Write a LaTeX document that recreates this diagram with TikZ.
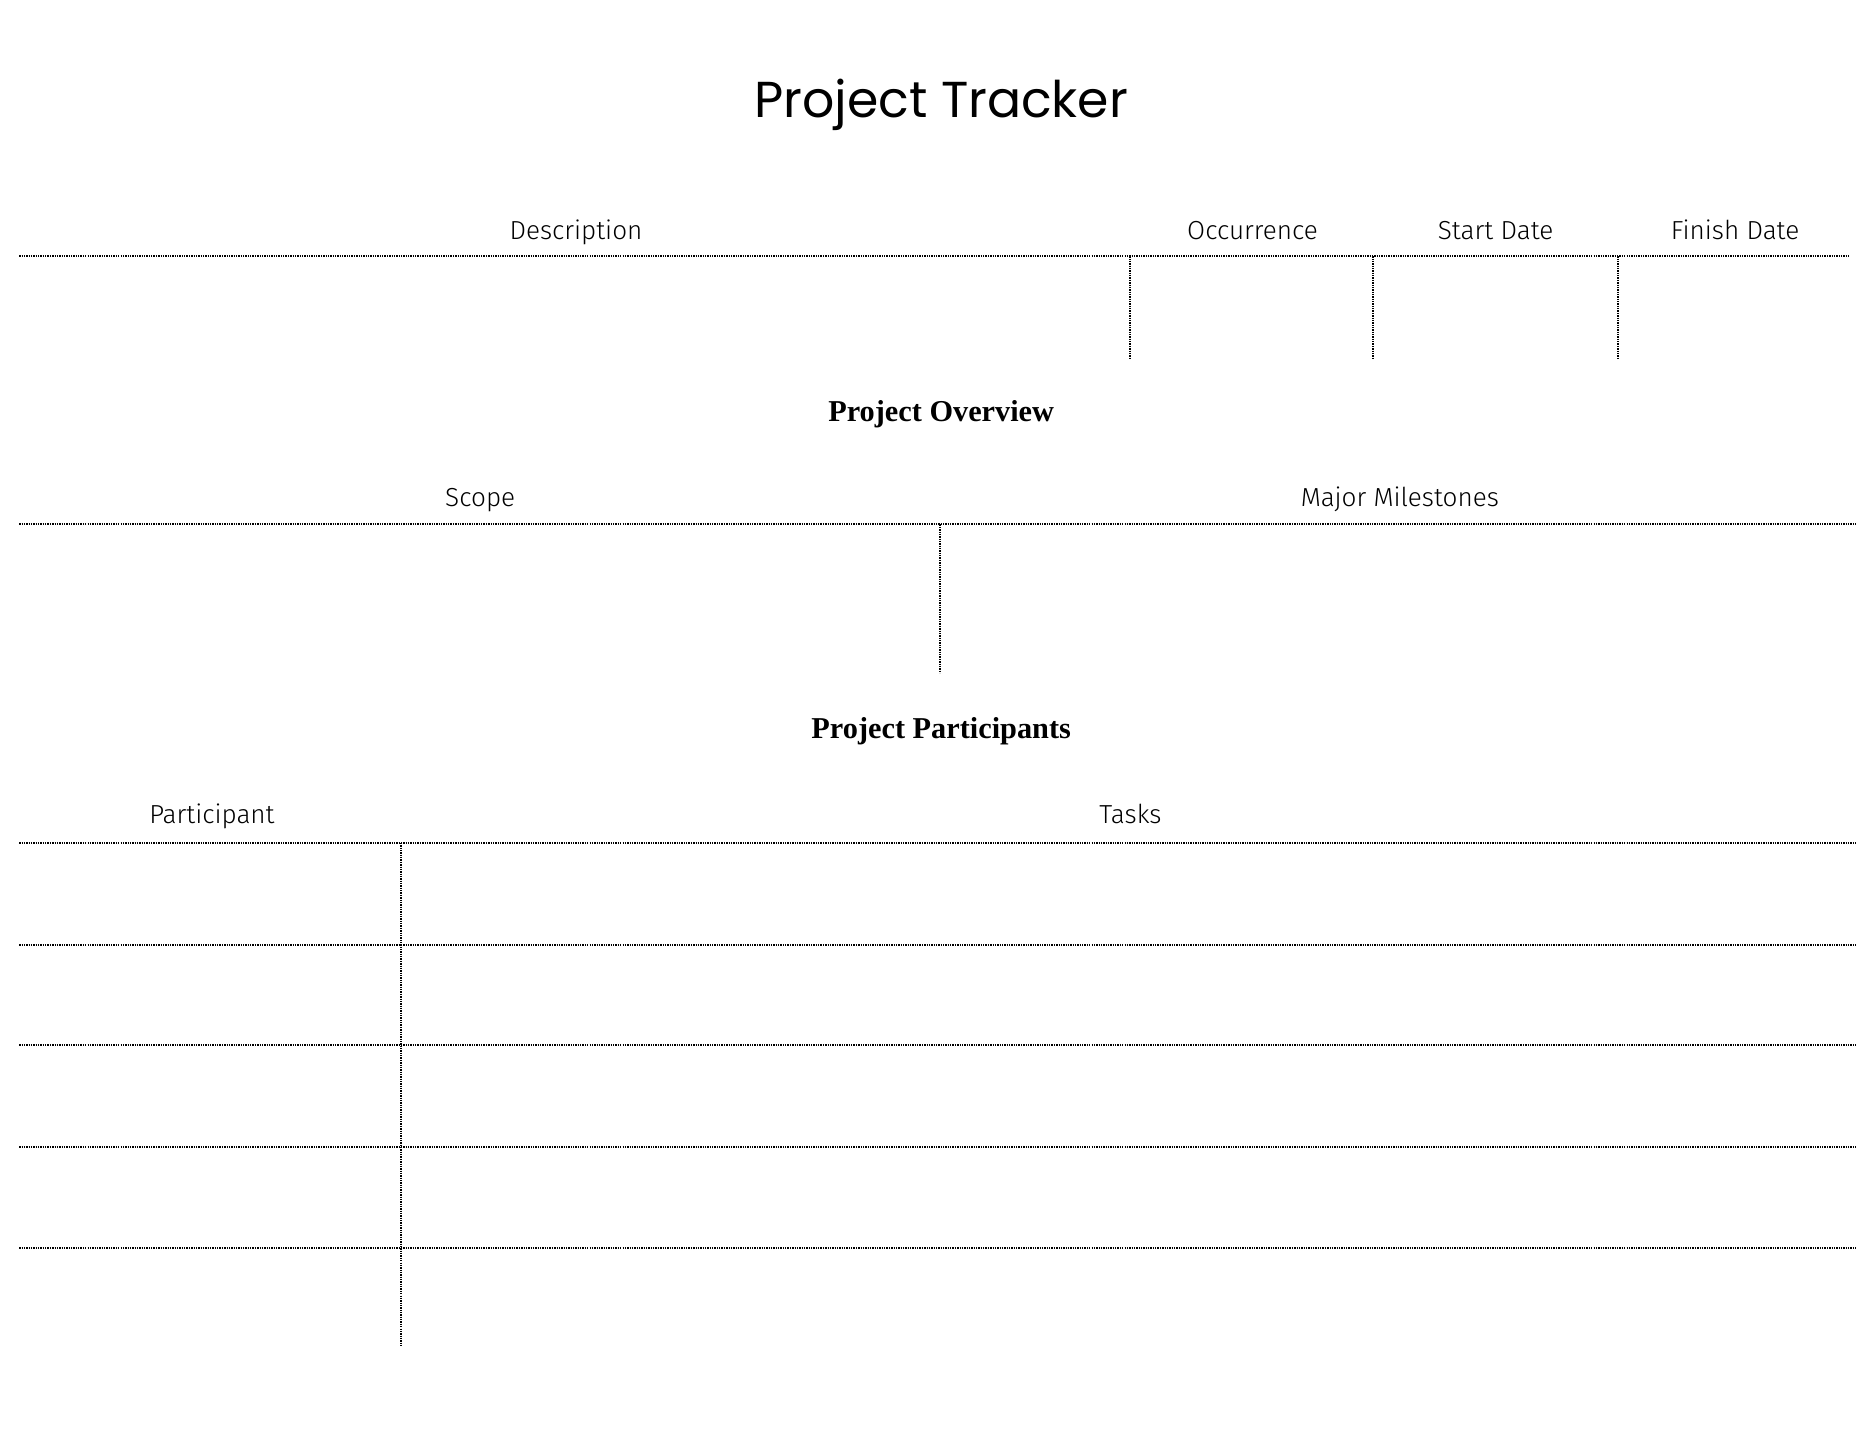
\documentclass[tikz,border=0pt]{standalone}
\usepackage{fontspec}
\setmainfont{Fira Sans Light}
\newfontfamily\titlefont{Poppins}
\newfontfamily\headfont{Liberation Serif}
\begin{document}
\begin{tikzpicture}[x=0.25mm,y=-0.25mm,
  rule/.style={line width=1.2pt,dash pattern=on 0.8pt off 0.6pt},
  lab/.style={font=\fontsize{15.5}{18}\selectfont,anchor=base},
  head/.style={font=\headfont\bfseries\fontsize{18}{20}\selectfont,anchor=base}]
\useasboundingbox (0,0) rectangle (1560,1194);
\node[font=\titlefont\fontsize{30}{34}\selectfont,anchor=base] (title) at (786,98) {Project Tracker};
\node[lab] (desc) at (481,200) {Description};
\node[lab] (occ) at (1046,200) {Occurrence};
\node[lab] (sd) at (1249,200) {Start Date};
\node[lab] (fd) at (1449,200) {Finish Date};
\draw[rule] (16,214) -- (1544,214);
\foreach \x in {944,1147,1351} \draw[rule] (\x,214) -- (\x,300);
\node[head] (po) at (786,352) {Project Overview};
\node[lab] (sc) at (401,423) {Scope};
\node[lab] (mm) at (1169,423) {Major Milestones};
\draw[rule] (16,438) -- (1550,438);
\draw[rule] (785,438) -- (785,562);
\node[head] (pp) at (786,617) {Project Participants};
\node[lab] (pa) at (177,688) {Participant};
\node[lab] (ta) at (944,688) {Tasks};
\foreach \y in {704,789,873,958,1042} \draw[rule] (16,\y) -- (1550,\y);
\draw[rule] (335,704) -- (335,1125);
\end{tikzpicture}
\end{document}
